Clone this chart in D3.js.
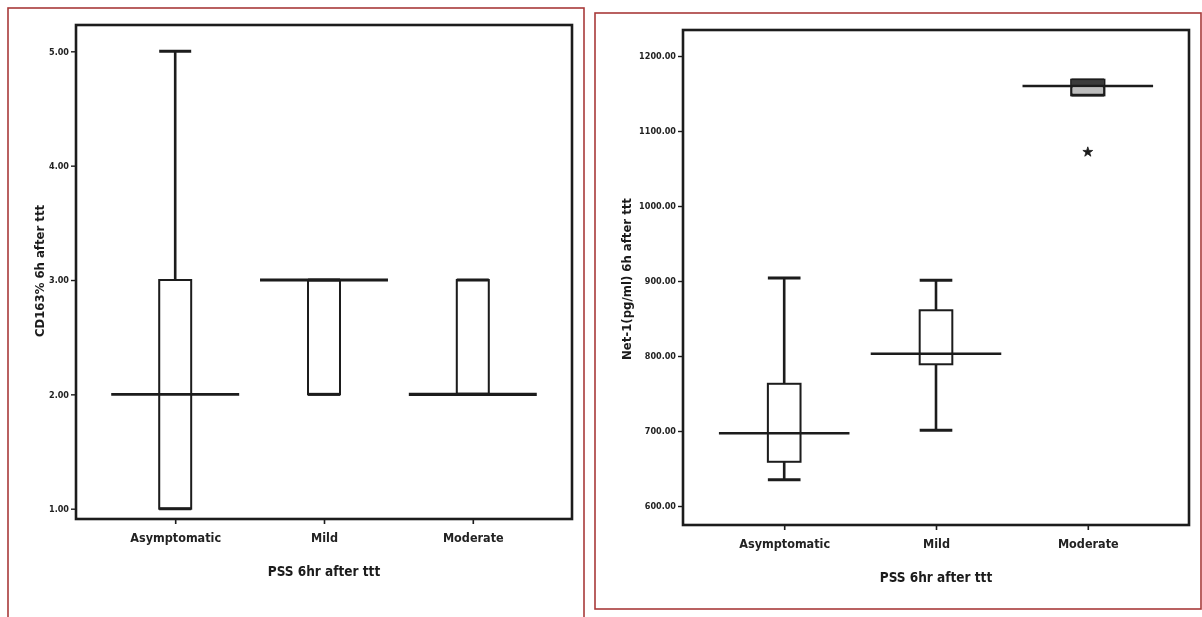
<!DOCTYPE html>
<html>
<head>
<meta charset="utf-8">
<script src="https://cdn.jsdelivr.net/npm/d3@7/dist/d3.min.js"></script>
<style>
  html, body { margin: 0; padding: 0; background: #fff; }
  svg { display: block; }
  text { font-family: "DejaVu Sans Condensed", "Liberation Sans Narrow", "Liberation Sans", Arial, sans-serif; font-stretch: condensed; fill: #1a1a1a; }
</style>
</head>
<body>
<svg id="chart" width="1202" height="617"></svg>
<script>
// Severity groups shared by both panels
const categories = ["Asymptomatic", "Mild", "Moderate"];

// CD163% at 6 h after treatment: five-number summaries per group
const cdMin    = [1, 2, 2];
const cdQ1     = [1, 2, 2];
const cdMedian = [2, 3, 2];
const cdQ3     = [3, 3, 3];
const cdMax    = [5, 3, 3];
const cdTicks  = [1, 2, 3, 4, 5];

// Net-1 (pg/ml) at 6 h after treatment
const netMin    = [635, 701, 1148];
const netQ1     = [659, 789, 1148];
const netMedian = [697, 803, 1160];
const netQ3     = [763, 861, 1168];
const netMax    = [904, 901, 1168];
const netOutliers = [{ group: "Moderate", value: 1072 }];
const netTicks  = [600, 700, 800, 900, 1000, 1100, 1200];

const svg = d3.select("#chart");
const ink = "#1c1c1c";

// soft edges like a scanned figure
const defs = svg.append("defs");
defs.append("filter").attr("id", "soft")
  .append("feGaussianBlur").attr("stdDeviation", 0.55);

function panel(cfg) {
  // red panel border
  svg.append("rect")
    .attr("x", cfg.border[0]).attr("y", cfg.border[1])
    .attr("width", cfg.border[2]).attr("height", cfg.border[3])
    .attr("fill", "none").attr("stroke", "#a83a3a").attr("stroke-width", 1.6);

  const g = svg.append("g").attr("filter", "url(#soft)");
  const { left, right, top, bottom } = cfg.frame;

  const x = d3.scalePoint().domain(categories).range([left, right]).padding(2 / 3);
  const y = d3.scaleLinear().domain(cfg.domain).range([bottom, top]);
  const step = x.step();
  const boxW = step * 0.215;
  const medW = step * 0.86;

  // y axis with tick labels
  const yAxis = d3.axisLeft(y).tickValues(cfg.ticks).tickFormat(d3.format(".2f"))
    .tickSize(5).tickPadding(2);
  const ya = g.append("g").attr("transform", `translate(${left},0)`).call(yAxis);
  ya.select(".domain").remove();
  ya.selectAll(".tick line").attr("stroke", ink).attr("stroke-width", 1.4);
  ya.selectAll(".tick text").attr("font-size", cfg.tickFont).attr("font-weight", "bold")
    .style("fill", "#222");

  // x axis ticks and category labels
  const xAxis = d3.axisBottom(x).tickSize(5).tickPadding(9);
  const xa = g.append("g").attr("transform", `translate(0,${bottom})`).call(xAxis);
  xa.select(".domain").remove();
  xa.selectAll(".tick line").attr("stroke", ink).attr("stroke-width", 1.6);
  xa.selectAll(".tick text").attr("font-size", 12.5).attr("font-weight", "bold")
    .style("fill", "#222");

  // plot frame
  g.append("rect")
    .attr("x", left).attr("y", top)
    .attr("width", right - left).attr("height", bottom - top)
    .attr("fill", "none").attr("stroke", ink).attr("stroke-width", 2.6);

  const rows = categories.map((c, i) => ({
    c, min: cfg.min[i], q1: cfg.q1[i], med: cfg.med[i], q3: cfg.q3[i], max: cfg.max[i]
  }));

  const box = g.selectAll(".box").data(rows).join("g").attr("class", "box");

  // whiskers
  box.append("line")
    .attr("x1", d => x(d.c)).attr("x2", d => x(d.c))
    .attr("y1", d => y(d.max)).attr("y2", d => y(d.q3))
    .attr("stroke", ink).attr("stroke-width", 2.6);
  box.append("line")
    .attr("x1", d => x(d.c)).attr("x2", d => x(d.c))
    .attr("y1", d => y(d.q1)).attr("y2", d => y(d.min))
    .attr("stroke", ink).attr("stroke-width", 2.6);
  // whisker caps
  box.append("line")
    .attr("x1", d => x(d.c) - boxW / 2).attr("x2", d => x(d.c) + boxW / 2)
    .attr("y1", d => y(d.max)).attr("y2", d => y(d.max))
    .attr("stroke", ink).attr("stroke-width", 3);
  box.append("line")
    .attr("x1", d => x(d.c) - boxW / 2).attr("x2", d => x(d.c) + boxW / 2)
    .attr("y1", d => y(d.min)).attr("y2", d => y(d.min))
    .attr("stroke", ink).attr("stroke-width", 3);
  // interquartile box; a very short box reads as a dark block
  box.append("rect")
    .attr("x", d => x(d.c) - boxW / 2).attr("width", boxW)
    .attr("y", d => y(d.q3)).attr("height", d => y(d.q1) - y(d.q3))
    .attr("fill", "none").attr("stroke", ink)
    .attr("stroke-width", d => (y(d.q1) - y(d.q3)) < 25 ? 2.6 : 2);
  box.filter(d => (y(d.q1) - y(d.q3)) < 25).append("rect")
    .attr("x", d => x(d.c) - boxW / 2).attr("width", boxW)
    .attr("y", d => y(d.q3)).attr("height", d => y(d.med) - y(d.q3))
    .attr("fill", "#3a3a3a");
  box.filter(d => (y(d.q1) - y(d.q3)) < 25).append("rect")
    .attr("x", d => x(d.c) - boxW / 2 + 1).attr("width", boxW - 2)
    .attr("y", d => y(d.med) + 1.5).attr("height", d => Math.max(0, y(d.q1) - y(d.med) - 3))
    .attr("fill", "#bdbdbd");
  // median line, drawn wide across the group
  box.append("line")
    .attr("x1", d => x(d.c) - medW / 2).attr("x2", d => x(d.c) + medW / 2)
    .attr("y1", d => y(d.med)).attr("y2", d => y(d.med))
    .attr("stroke", ink).attr("stroke-width", d => d.med === d.q3 || d.med === d.q1 ? 3.2 : 2.6);

  // outliers
  g.selectAll(".out").data(cfg.outliers).join("path")
    .attr("transform", d => `translate(${x(d.group)},${y(d.value)})`)
    .attr("d", d3.symbol(d3.symbolStar, 30))
    .attr("fill", ink).attr("stroke", ink).attr("stroke-width", 0.8);

  // axis titles
  g.append("text")
    .attr("transform", `translate(${cfg.yTitlePos[0]},${cfg.yTitlePos[1]}) rotate(-90)`)
    .attr("text-anchor", "middle").attr("font-size", 13).attr("font-weight", "bold")
    .text(cfg.yTitle);
  g.append("text")
    .attr("x", (left + right) / 2).attr("y", cfg.xTitleY)
    .attr("text-anchor", "middle").attr("font-size", 13.5).attr("font-weight", "bold")
    .text("PSS 6hr after ttt");
}

panel({
  border: [8, 8, 576, 620],
  frame: { left: 76, right: 572, top: 25, bottom: 519 },
  domain: [0.91, 5.23],
  ticks: cdTicks, tickFont: 9,
  min: cdMin, q1: cdQ1, med: cdMedian, q3: cdQ3, max: cdMax,
  outliers: [],
  yTitle: "CD163% 6h after ttt", yTitlePos: [44, 271],
  xTitleY: 576
});

panel({
  border: [595, 13, 606, 596],
  frame: { left: 683, right: 1189, top: 30, bottom: 525 },
  domain: [574.7, 1234.7],
  ticks: netTicks, tickFont: 9,
  min: netMin, q1: netQ1, med: netMedian, q3: netQ3, max: netMax,
  outliers: netOutliers,
  yTitle: "Net-1(pg/ml) 6h after ttt", yTitlePos: [631, 279],
  xTitleY: 582
});
</script>
</body>
</html>
